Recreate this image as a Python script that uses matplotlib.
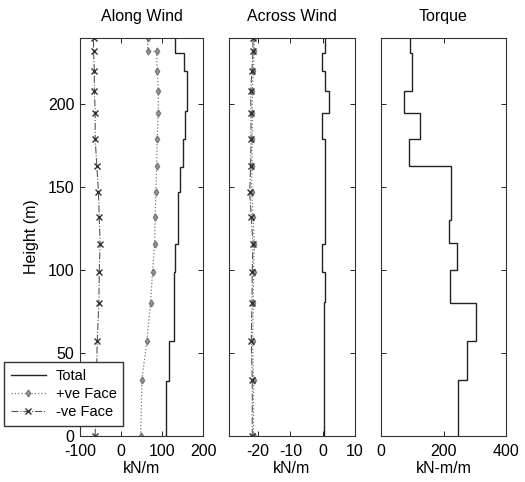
import numpy as np
import matplotlib
matplotlib.use("Agg")
import matplotlib.pyplot as plt

plt.rcParams["font.family"] = ["Liberation Sans", "DejaVu Sans"]
plt.rcParams["font.size"] = 11
plt.rcParams["axes.unicode_minus"] = False

# --- data ---
# Total (step profiles): segment edges in m, one value per segment (bottom -> top)
along_edges = [0, 33, 57, 99, 116, 147, 162.5, 179, 196, 220, 231, 240]
along_total = [110, 118, 129, 132, 138, 145, 150, 156, 160, 154, 132]

across_edges = [0, 81, 99, 116, 163, 179, 195, 208, 220, 231, 240]
across_total = [0.4, 0.8, -0.2, 0.6, 0.8, -0.2, 2.0, 0.6, -0.2, 0.6]

torque_edges = [0, 34, 57, 80, 100, 116.6, 130, 163, 179, 195, 208, 231, 240]
torque_total = [246, 275, 304, 221, 243, 218, 224, 90, 125, 74, 99, 93]

# face pressures at floor levels
along_h_pos = [0, 34, 57, 80, 99, 116, 132, 147, 163, 179, 195, 208, 220, 232, 232, 240]
along_pos = [48, 51, 63, 72, 77, 82, 83, 85, 87, 88, 91, 91, 88, 87, 65, 65]
along_h_neg = [0, 34, 57, 80, 99, 116, 132, 147, 163, 179, 195, 208, 220, 232, 240]
along_neg = [-63, -60, -58, -54, -53, -51, -53, -55, -59, -63, -63, -65, -65, -67, -67]

across_h = [0, 34, 57, 80, 99, 116, 132, 147, 163, 179, 195, 208, 220, 232, 240]
across_pos = [-21.4, -21.4, -21.7, -21.5, -21.4, -21.2, -21.5, -22.0, -21.9, -21.8, -21.8, -21.8, -21.5, -21.2, -21.2]
across_neg = [-21.8, -21.8, -22.1, -21.9, -21.8, -21.6, -22.1, -22.6, -22.3, -22.2, -22.2, -22.3, -21.9, -21.6, -21.6]

fig = plt.figure(figsize=(5.25, 4.82), dpi=100)
W, H = 525.0, 482.0
bot = 1 - 436 / H
hgt = (436 - 38) / H
ax1 = fig.add_axes([80 / W, bot, 123 / W, hgt])
ax2 = fig.add_axes([229 / W, bot, 126 / W, hgt])
ax3 = fig.add_axes([381 / W, bot, 125 / W, hgt])

lc = "#222222"
pos_kw = dict(color="#777777", linestyle=":", linewidth=0.9, marker="d",
              markersize=3.5, markerfacecolor="#9a9a9a", markeredgecolor="#777777")
neg_kw = dict(color="#555555", linestyle="-.", linewidth=0.8, marker="x",
              markersize=4.5, markeredgecolor="#333333", markeredgewidth=1.0)

# along wind
ax1.stairs(along_total, along_edges, orientation="horizontal", baseline=None,
           color=lc, linewidth=1.0, label="Total")
ax1.plot(along_pos, along_h_pos, label="+ve Face", **pos_kw)
ax1.plot(along_neg, along_h_neg, label="-ve Face", **neg_kw)
ax1.set_xlim(-100, 200)
ax1.set_xticks([-100, 0, 100, 200])
ax1.set_title("Along Wind", fontsize=11.5, pad=12)
ax1.set_ylabel("Height (m)", fontsize=11.5, labelpad=6)

# across wind
ax2.stairs(across_total, across_edges, orientation="horizontal", baseline=None,
           color=lc, linewidth=1.0)
ax2.plot(across_pos, across_h, **pos_kw)
ax2.plot(across_neg, across_h, **neg_kw)
ax2.set_xlim(-29, 10)
ax2.set_xticks([-20, -10, 0, 10])
ax2.set_title("Across Wind", fontsize=11.5, pad=12)

# torque
ax3.stairs(torque_total, torque_edges, orientation="horizontal", baseline=None,
           color=lc, linewidth=1.0)
ax3.set_xlim(0, 400)
ax3.set_xticks([0, 200, 400])
ax3.set_title("Torque", fontsize=11.5, pad=12)

for ax, xl in zip([ax1, ax2, ax3], ["kN/m", "kN/m", "kN-m/m"]):
    ax.set_ylim(0, 240)
    ax.set_yticks([0, 50, 100, 150, 200])
    ax.set_xlabel(xl, fontsize=11.5, labelpad=1)
    ax.tick_params(direction="in", top=True, right=True, length=3.5, width=0.6,
                   labelsize=11.5)
    ax.tick_params(axis="x", pad=6)
    ax.tick_params(axis="y", pad=4)
    for s in ax.spines.values():
        s.set_linewidth(0.8)
        s.set_color("#333333")
for ax in [ax2, ax3]:
    ax.tick_params(labelleft=False)

handles, labels = ax1.get_legend_handles_labels()
fig.legend(handles, labels, loc="lower left", bbox_to_anchor=(4 / W, 1 - 426 / H),
           borderaxespad=0, fontsize=10.5, frameon=True, fancybox=False,
           edgecolor="#333333", framealpha=1.0, handlelength=2.4, borderpad=0.45,
           labelspacing=0.3, handletextpad=0.7)

fig.savefig("out.png", dpi=100)
